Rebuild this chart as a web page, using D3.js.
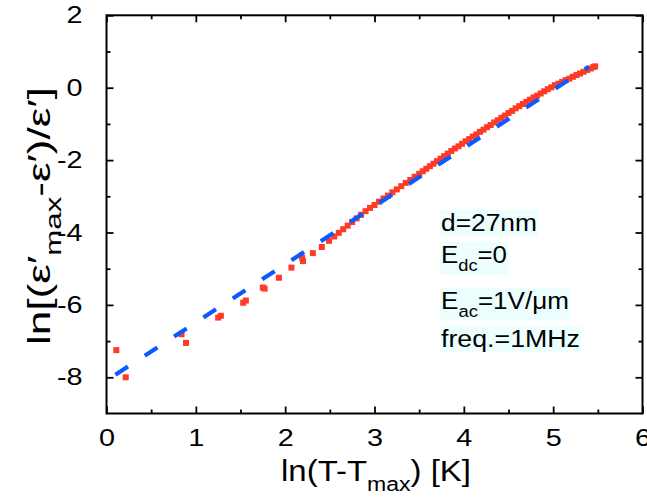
<!DOCTYPE html>
<html><head><meta charset="utf-8">
<script src="https://cdn.jsdelivr.net/npm/d3@7"></script>
<style>
html,body{margin:0;padding:0;background:#fff;}
svg{display:block;font-family:"Liberation Sans",Arial,Helvetica,sans-serif;}
</style></head><body>
<svg id="chart" width="647" height="502"></svg>
<script>
// ---------- data ----------
const xMajorTicks = [0, 1, 2, 3, 4, 5, 6];
const xMinorTicks = [0.5, 1.5, 2.5, 3.5, 4.5, 5.5];
const yMajorTicks = [-8, -6, -4, -2, 0, 2];
const yMinorTicks = [-7, -5, -3, -1, 1];

const dataX = [0.11,0.215,0.84,0.89,1.25,1.28,1.53,1.56,1.75,1.77,1.93,2.07,2.19,2.2,2.31,2.41,2.49,
  2.55,2.6,2.65,2.7,2.75,2.8,2.85,2.9,2.95,3.0,3.05,3.1,3.15,3.2,3.25,3.3,3.35,3.4,3.45,3.5,
  3.54,3.58,3.62,3.66,3.7,3.74,3.78,3.82,3.86,3.9,3.94,3.98,
  4.02,4.06,4.1,4.14,4.18,4.22,4.26,4.3,4.34,4.38,4.42,4.46,4.5,4.54,4.58,
  4.62,4.66,4.7,4.74,4.78,4.82,4.86,4.9,4.94,4.98,
  5.02,5.06,5.1,5.14,5.18,5.22,5.26,5.3,5.34,5.38,5.42,5.45,5.47];
const dataY = [-7.25,-8.0,-6.81,-7.05,-6.35,-6.30,-5.94,-5.88,-5.52,-5.55,-5.25,-4.97,-4.70,-4.79,-4.57,-4.40,-4.23,
  -4.11,-4.01,-3.91,-3.81,-3.71,-3.61,-3.51,-3.41,-3.32,-3.24,-3.15,-3.06,-2.98,-2.89,-2.81,-2.72,-2.63,-2.55,-2.46,-2.38,
  -2.31,-2.24,-2.17,-2.10,-2.03,-1.96,-1.89,-1.82,-1.75,-1.68,-1.62,-1.55,
  -1.48,-1.42,-1.35,-1.29,-1.22,-1.16,-1.09,-1.03,-0.96,-0.90,-0.83,-0.77,-0.70,-0.64,-0.57,
  -0.51,-0.45,-0.39,-0.33,-0.27,-0.22,-0.16,-0.10,-0.04,0.01,
  0.07,0.11,0.16,0.21,0.25,0.30,0.35,0.39,0.44,0.49,0.53,0.57,0.59];

const fitX = [0.1, 5.4];
const fitY = [-7.93, 0.58];

const legendLines = [
  [{t:"d=27nm"}],
  [{t:"E"},{t:"dc",sub:true},{t:"=0"}],
  [{t:"E"},{t:"ac",sub:true},{t:"=1V/\u03BCm"}],
  [{t:"freq.=1MHz"}]
];

// ---------- layout ----------
const L = 106.5, R = 642.5, T = 15.3, B = 413.5;
const svg = d3.select("#chart");
const x = d3.scaleLinear().domain([0, 6]).range([L, R]);
const y = d3.scaleLinear().domain([-9, 2]).range([B, T]);
const red = "#ff3a26", blue = "#0a5aff";

// fit a text element's width to a target by horizontal scaling
function fitText(sel, tx, ty, target, anchor, rot) {
  const w = sel.node().getBBox().width;
  const s = target / w;
  sel.attr("transform", `translate(${tx},${ty})${rot ? " rotate(" + rot + ")" : ""} scale(${s},1)`);
  return s;
}

// ---------- data marks ----------
const pts = d3.range(dataX.length);
svg.append("g").selectAll("rect").data(pts).join("rect")
  .attr("x", i => x(dataX[i]) - 3).attr("y", i => y(dataY[i]) - 3)
  .attr("width", 6).attr("height", 6).attr("fill", red);

svg.append("path")
  .datum(d3.range(fitX.length))
  .attr("d", d3.line().x(i => x(fitX[i])).y(i => y(fitY[i])))
  .attr("fill", "none").attr("stroke", blue).attr("stroke-width", 4.2)
  .attr("stroke-dasharray", "15,20");

// ---------- axes ----------
function styleAxis(g) {
  g.select(".domain").remove();
  g.selectAll(".tick line").attr("stroke", "#000").attr("stroke-width", 1.8);
}
const fmt = d => String(d);
svg.append("g").attr("transform", `translate(0,${B})`)
  .call(d3.axisBottom(x).tickValues(xMajorTicks).tickSize(-7).tickPadding(15).tickFormat(fmt))
  .call(styleAxis);
svg.append("g").attr("transform", `translate(0,${B})`)
  .call(d3.axisBottom(x).tickValues(xMinorTicks).tickSize(-4).tickFormat(""))
  .call(styleAxis);
svg.append("g").attr("transform", `translate(0,${T})`)
  .call(d3.axisTop(x).tickValues(xMajorTicks).tickSize(-7).tickFormat(""))
  .call(styleAxis);
svg.append("g").attr("transform", `translate(0,${T})`)
  .call(d3.axisTop(x).tickValues(xMinorTicks).tickSize(-4).tickFormat(""))
  .call(styleAxis);
svg.append("g").attr("transform", `translate(${L},0)`)
  .call(d3.axisLeft(y).tickValues(yMajorTicks).tickSize(-7).tickPadding(24).tickFormat(fmt))
  .call(styleAxis);
svg.append("g").attr("transform", `translate(${L},0)`)
  .call(d3.axisLeft(y).tickValues(yMinorTicks).tickSize(-4).tickFormat(""))
  .call(styleAxis);
svg.append("g").attr("transform", `translate(${R},0)`)
  .call(d3.axisRight(y).tickValues(yMajorTicks).tickSize(-7).tickFormat(""))
  .call(styleAxis);
svg.append("g").attr("transform", `translate(${R},0)`)
  .call(d3.axisRight(y).tickValues(yMinorTicks).tickSize(-4).tickFormat(""))
  .call(styleAxis);

// tick label styling
svg.selectAll(".tick text")
  .attr("fill", "#000").attr("font-size", 24)
  .attr("font-family", '"Liberation Sans",Arial,sans-serif')
  .each(function() {
    const t = d3.select(this);
    const xx = +t.attr("x") || 0, yy = +t.attr("y") || 0;
    t.attr("x", 0).attr("y", 0).attr("transform", `translate(${xx},${yy}) scale(1.2,1)`);
  });

// frame
svg.append("rect").attr("x", L).attr("y", T).attr("width", R - L).attr("height", B - T)
  .attr("fill", "none").attr("stroke", "#000").attr("stroke-width", 2);

// ---------- axis titles ----------
const xt = svg.append("text").attr("font-size", 30).attr("fill", "#000").attr("text-anchor", "middle");
xt.append("tspan").text("ln(T-T");
xt.append("tspan").text("max").attr("font-size", 21).attr("dy", 10);
xt.append("tspan").text(") [K]").attr("dy", -10);
fitText(xt, 376, 481, 190);

const yt = svg.append("text").attr("font-size", 31).attr("fill", "#000").attr("text-anchor", "middle");
yt.append("tspan").text("ln[(\u03B5\u2032");
yt.append("tspan").text("max").attr("font-size", 22).attr("dy", 11);
yt.append("tspan").text("-\u03B5\u2032)/\u03B5\u2032]").attr("dy", -11);
fitText(yt, 50, 216, 258, "middle", -90);

// ---------- legend text ----------
const legX = 441;
const legBase = [231, 263, 309, 347];
const legW = [96, 66, 128, 139];
legendLines.forEach((parts, i) => {
  const g = svg.append("g");
  const bg = g.append("rect").attr("fill", "#ecfefe");
  const t = g.append("text").attr("font-size", 24).attr("fill", "#000");
  parts.forEach(p => {
    const ts = t.append("tspan").text(p.t);
    if (p.sub) ts.attr("font-size", 17).attr("dy", 8);
    else if (t.selectAll("tspan").size() > 1) ts.attr("dy", -8);
  });
  const s = fitText(t, legX, legBase[i], legW[i]);
  const bb = t.node().getBBox();
  bg.attr("x", legX + bb.x * s - 1).attr("y", legBase[i] + bb.y + 1)
    .attr("width", bb.width * s + 2).attr("height", bb.height - 1);
});
</script>
</body></html>
